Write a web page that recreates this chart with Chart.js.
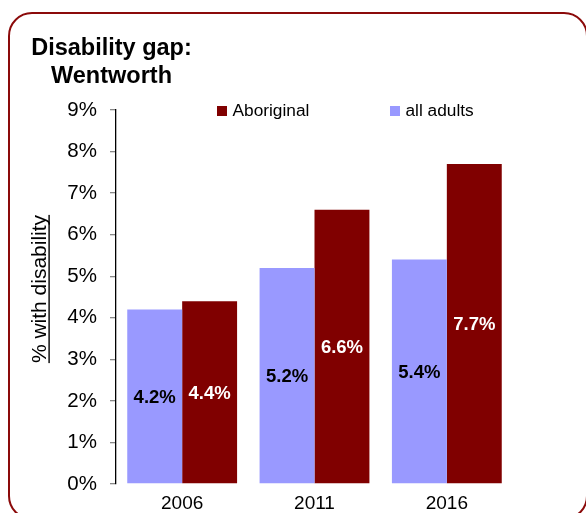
<!DOCTYPE html>
<html>
<head>
<meta charset="utf-8">
<script src="https://cdn.jsdelivr.net/npm/chart.js@4/dist/chart.umd.min.js"></script>
<style>
html,body{margin:0;padding:0;background:#fff;overflow:hidden;width:586px;height:513px;}
#wrap{position:relative;width:586px;height:513px;overflow:hidden;}
#frame{position:absolute;left:8px;top:12px;width:580px;height:508px;box-sizing:border-box;border:2.5px solid #8b0a0a;border-radius:24px;pointer-events:none;}
#title{position:absolute;left:11px;width:201px;top:33px;text-align:center;font-family:"Liberation Sans",Arial,sans-serif;font-weight:bold;font-size:23.5px;line-height:28px;color:#000;}
#cwrap{position:absolute;left:0;top:0;width:586px;height:513px;}
.lbox{position:absolute;width:10px;height:10px;top:106px;}
.ltxt{position:absolute;top:100px;font-family:"Liberation Sans",Arial,sans-serif;font-size:17.3px;line-height:20px;color:#000;white-space:nowrap;}
</style>
</head>
<body>
<div id="wrap">
  <div id="cwrap"><canvas id="c"></canvas></div>
  <div id="frame"></div>
  <div id="title">Disability gap:<br>Wentworth</div>
  <div id="legend"></div>
</div>
<script>
// ---- data ----
const categories = ['2006', '2011', '2016'];
const allAdults = [4.2, 5.2, 5.4];
const aboriginal = [4.4, 6.6, 7.7];
const seriesNames = ['all adults', 'Aboriginal'];
const yAxisTitle = '% with disability';
const yMin = 0, yMax = 9, yStep = 1;

const FONT = '"Liberation Sans", Arial, sans-serif';

const valueLabels = {
  id: 'valueLabels',
  afterDatasetsDraw(chart) {
    const ctx = chart.ctx;
    chart.data.datasets.forEach((ds, i) => {
      const meta = chart.getDatasetMeta(i);
      meta.data.forEach((bar, j) => {
        const v = ds.data[j];
        ctx.save();
        ctx.font = 'bold 18.5px ' + FONT;
        ctx.fillStyle = ds.labelColor;
        ctx.textAlign = 'center';
        ctx.textBaseline = 'middle';
        ctx.fillText(v.toFixed(1) + '%', bar.x, (bar.y + bar.base) / 2 + 1.5);
        ctx.restore();
      });
    });
  }
};

const yTitle = {
  id: 'yTitle',
  afterDraw(chart) {
    const ctx = chart.ctx;
    const area = chart.chartArea;
    const cy = (area.top + area.bottom) / 2 - 8;
    ctx.save();
    ctx.translate(46, cy);
    ctx.rotate(-Math.PI / 2);
    ctx.font = '21px ' + FONT;
    ctx.fillStyle = '#000';
    ctx.textAlign = 'center';
    ctx.textBaseline = 'alphabetic';
    ctx.fillText(yAxisTitle, 0, 0);
    const w = ctx.measureText(yAxisTitle).width;
    ctx.fillRect(-w / 2, 2.4, w, 1.4);
    ctx.restore();
  }
};

const chart = new Chart(document.getElementById('c'), {
  type: 'bar',
  data: {
    labels: categories,
    datasets: [
      { label: seriesNames[0], data: allAdults, backgroundColor: '#9999ff', labelColor: '#000' },
      { label: seriesNames[1], data: aboriginal, backgroundColor: '#800000', labelColor: '#fff' }
    ]
  },
  options: {
    responsive: true,
    maintainAspectRatio: false,
    animation: false,
    layout: { padding: { left: 0, top: 110, right: 73, bottom: 0 } },
    datasets: { bar: { barPercentage: 1, categoryPercentage: 0.83, borderWidth: 0 } },
    plugins: { legend: { display: false }, tooltip: { enabled: false }, title: { display: false } },
    scales: {
      x: {
        grid: { display: false, drawTicks: false },
        border: { display: false },
        ticks: { color: '#000', font: { family: FONT, size: 19 }, padding: 8 },
        afterFit(s) { s.height = 29; }
      },
      y: {
        min: yMin, max: yMax,
        ticks: { stepSize: yStep, color: '#000', font: { family: FONT, size: 20.5 }, padding: 13,
                 callback: v => v + '%' },
        grid: { drawOnChartArea: false, color: '#888', tickLength: 6, lineWidth: 1.3 },
        border: { color: '#000', width: 1.3 },
        afterFit(s) { s.width = 116; }
      }
    }
  },
  plugins: [valueLabels, yTitle]
});

// HTML legend from the chart's datasets (reversed order, as in the reference)
const legendX = [217, 390];
const legend = document.getElementById('legend');
chart.data.datasets.slice().reverse().forEach((ds, k) => {
  const b = document.createElement('div');
  b.className = 'lbox';
  b.style.left = legendX[k] + 'px';
  b.style.background = ds.backgroundColor;
  const t = document.createElement('div');
  t.className = 'ltxt';
  t.style.left = (legendX[k] + 15.5) + 'px';
  t.textContent = ds.label;
  legend.appendChild(b);
  legend.appendChild(t);
});
</script>
</body>
</html>
